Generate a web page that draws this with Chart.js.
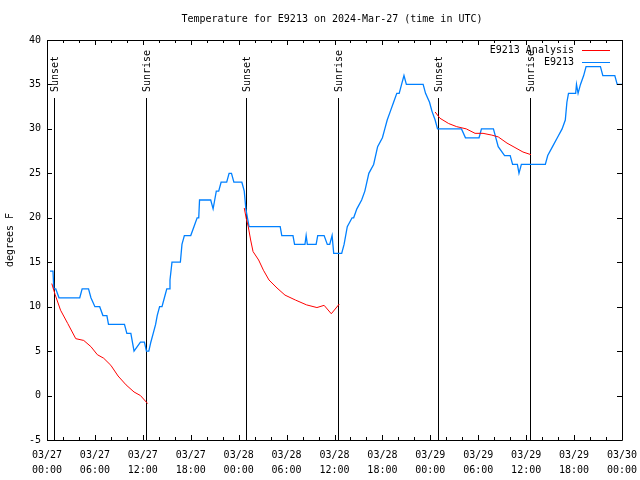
<!DOCTYPE html>
<html>
<head>
<meta charset="utf-8">
<title>Temperature for E9213</title>
<script src="https://cdn.jsdelivr.net/npm/chart.js@4.4.1/dist/chart.umd.min.js"></script>
<style>
  html, body { margin: 0; padding: 0; background: #fff; }
  canvas { display: block; }
</style>
</head>
<body>
<canvas id="tempChart" width="640" height="480"></canvas>
<script>
// ---- data (hours since 03/27 00:00 UTC) ----
const stationHours = [0.38, 0.75, 0.85, 1.1, 1.5, 4.1, 4.4, 5.2, 5.5, 6.0, 6.6, 7.0, 7.5, 7.7, 9.7, 10.0, 10.5, 10.9,
  11.7, 12.2, 12.45, 12.75, 13.0, 13.3, 13.6, 13.8, 14.1, 14.4, 14.7, 15.0, 15.3, 15.4, 15.65, 16.7, 16.9, 17.2, 18.0,
  18.4, 18.8, 19.0, 19.1, 20.5, 20.8, 21.0, 21.2, 21.5, 21.8, 22.5, 22.8, 23.1, 23.4, 24.4, 24.7, 24.9, 25.1, 25.3,
  29.2, 29.4, 30.8, 31.0, 32.3, 32.45, 32.6, 33.7, 33.9, 34.7, 35.1, 35.4, 35.7, 35.9, 36.9, 37.2, 37.6, 38.2, 38.4,
  38.8, 39.4, 39.8, 40.3, 40.9, 41.4, 42.0, 42.3, 42.6, 43.0, 43.4, 43.8, 44.1, 44.4, 44.7, 45.0, 47.1, 47.4, 47.9,
  48.2, 48.6, 48.9, 51.9, 52.4, 54.1, 54.4, 55.9, 56.5, 57.3, 58.0, 58.3, 58.9, 59.1, 59.4, 62.4, 62.7, 63.3, 63.9,
  64.5, 64.9, 65.1, 65.3, 66.2, 66.3, 66.5, 66.8, 67.2, 67.5, 69.3, 69.6, 71.1, 71.4, 72.0];
const stationTemps = [14, 14, 12, 12, 11, 11, 12, 12, 11, 10, 10, 9, 9, 8, 8, 7, 7, 5,
  6, 6, 5, 5, 6, 7, 8, 9, 10, 10, 11, 12, 12, 13, 15, 15, 17, 18, 18,
  19, 20, 20, 22, 22, 21, 22, 23, 23, 24, 24, 25, 25, 24, 24, 23, 21, 20, 19,
  19, 18, 18, 17, 17, 18, 17, 17, 18, 18, 17, 17, 18, 16, 16, 17, 19, 20, 20,
  21, 22, 23, 25, 26, 28, 29, 30, 31, 32, 33, 34, 34, 35, 36, 35, 35, 34, 33,
  32, 31, 30, 30, 29, 29, 30, 30, 28, 27, 27, 26, 26, 25, 26, 26, 27, 28, 29,
  30, 31, 33, 34, 34, 35, 34, 35, 36, 37, 37, 36, 36, 35, 35];

// analysis: three night segments, null breaks the line
const analysisHours = [0.6, 1.0, 1.7, 2.6, 3.6, 4.6, 5.5, 6.3, 7.1, 8.0, 8.9, 9.9, 10.9, 11.7, 12.6, 18.0,
  24.7, 24.95, 25.2, 25.5, 25.8, 26.5, 27.1, 27.8, 28.8, 29.8, 31.1, 32.5, 33.8, 34.7, 35.6, 36.6, 42.0,
  48.6, 49.2, 50.3, 51.3, 52.5, 53.6, 54.6, 55.7, 56.5, 57.6, 58.6, 59.6, 60.6];
const analysisTemps = [12.6, 11.4, 9.6, 8.1, 6.4, 6.2, 5.5, 4.6, 4.2, 3.4, 2.2, 1.2, 0.4, 0.0, -0.9, null,
  21.1, 19.9, 19.0, 17.5, 16.2, 15.25, 14.1, 13.0, 12.1, 11.3, 10.75, 10.2, 9.9, 10.15, 9.2, 10.3, null,
  31.9, 31.2, 30.6, 30.25, 30.0, 29.5, 29.5, 29.3, 29.1, 28.4, 27.9, 27.4, 27.1];

const sunHours = [0.85, 12.45, 24.95, 36.5, 49.0, 60.5];
const sunLabels = ['Sunset', 'Sunrise', 'Sunset', 'Sunrise', 'Sunset', 'Sunrise'];

const tickDates = ['03/27', '03/27', '03/27', '03/27', '03/28', '03/28', '03/28', '03/28', '03/29', '03/29', '03/29', '03/29', '03/30'];
const tickTimes = ['00:00', '06:00', '12:00', '18:00', '00:00', '06:00', '12:00', '18:00', '00:00', '06:00', '12:00', '18:00', '00:00'];

const MONO = "'DejaVu Sans Mono', 'Liberation Mono', monospace";
const BLUE = '#0080ff';
const RED = '#ff0000';

// gnuplot-like frame, inward ticks, sun markers, legend and titles
const gnuplotLook = {
  id: 'gnuplotLook',
  beforeDatasetsDraw(chart) {
    const { ctx, chartArea: ca, scales: { x } } = chart;
    ctx.save();
    ctx.strokeStyle = '#000';
    ctx.fillStyle = '#000';
    ctx.lineWidth = 1;
    ctx.font = '10px ' + MONO;
    sunHours.forEach((h, i) => {
      const px = Math.round(x.getPixelForValue(h)) + 0.5;
      ctx.beginPath();
      ctx.moveTo(px, ca.bottom);
      ctx.lineTo(px, ca.top + 58);
      ctx.stroke();
      ctx.save();
      ctx.translate(px + 1, ca.top + 52);
      ctx.rotate(-Math.PI / 2);
      ctx.textAlign = 'left';
      ctx.textBaseline = 'middle';
      ctx.fillText(sunLabels[i], 0, 0);
      ctx.restore();
    });
    ctx.restore();
  },
  afterDraw(chart) {
    const { ctx, chartArea: ca, scales: { x, y } } = chart;
    ctx.save();
    ctx.strokeStyle = '#000';
    ctx.lineWidth = 1;
    ctx.beginPath();
    ctx.rect(ca.left + 0.5, ca.top + 0.5, ca.right - ca.left, ca.bottom - ca.top);
    ctx.stroke();

    // x ticks every 2 h, longer every 6 h
    ctx.beginPath();
    for (let h = 0; h <= 72; h += 2) {
      const px = Math.round(x.getPixelForValue(h)) + 0.5;
      const len = h % 6 === 0 ? 5 : 3;
      ctx.moveTo(px, ca.bottom); ctx.lineTo(px, ca.bottom - len);
      ctx.moveTo(px, ca.top); ctx.lineTo(px, ca.top + len);
    }
    // y ticks every 5 deg
    for (let v = -5; v <= 40; v += 5) {
      const py = Math.round(y.getPixelForValue(v)) + 0.5;
      ctx.moveTo(ca.left, py); ctx.lineTo(ca.left + 5, py);
      ctx.moveTo(ca.right, py); ctx.lineTo(ca.right - 5, py);
    }
    ctx.stroke();

    // legend, top right inside the plot
    ctx.font = '10px ' + MONO;
    ctx.fillStyle = '#000';
    ctx.textAlign = 'right';
    ctx.textBaseline = 'middle';
    const items = [[chart.data.datasets[0].label, RED], [chart.data.datasets[1].label, BLUE]];
    items.forEach(([label, color], i) => {
      const ly = ca.top + 10 + i * 12;
      ctx.fillText(label, ca.right - 48, ly);
      ctx.strokeStyle = color;
      ctx.beginPath();
      ctx.moveTo(ca.right - 40, ly + 0.5);
      ctx.lineTo(ca.right - 12, ly + 0.5);
      ctx.stroke();
    });

    // chart title and y axis title
    ctx.textAlign = 'center';
    ctx.fillText('Temperature for E9213 on 2024-Mar-27 (time in UTC)', 332, 19);
    ctx.save();
    ctx.translate(10, 240);
    ctx.rotate(-Math.PI / 2);
    ctx.fillText('degrees F', 0, 0);
    ctx.restore();
    ctx.restore();
  }
};

const ctx = document.getElementById('tempChart').getContext('2d');
new Chart(ctx, {
  type: 'line',
  data: {
    datasets: [{
      label: 'E9213 Analysis',
      data: analysisHours.map((h, i) => ({ x: h, y: analysisTemps[i] })),
      borderColor: RED,
      borderWidth: 1,
      pointRadius: 0,
      tension: 0,
      spanGaps: false
    }, {
      label: 'E9213',
      data: stationHours.map((h, i) => ({ x: h, y: stationTemps[i] })),
      borderColor: BLUE,
      borderWidth: 1.3,
      pointRadius: 0,
      tension: 0
    }]
  },
  options: {
    responsive: false,
    animation: false,
    devicePixelRatio: 1,
    layout: { padding: { top: 40, right: 18, left: 0, bottom: 0 } },
    plugins: {
      legend: { display: false },
      tooltip: { enabled: false }
    },
    scales: {
      x: {
        type: 'linear',
        min: 0,
        max: 72,
        grid: { display: false, drawTicks: false },
        border: { display: false },
        ticks: {
          stepSize: 6,
          autoSkip: false,
          maxRotation: 0,
          padding: 8,
          color: '#000',
          font: { family: MONO, size: 10, lineHeight: 1.5 },
          callback: (value, index) => [tickDates[index], tickTimes[index]]
        },
        afterFit: s => { s.height = 40; s.paddingLeft = 0; s.paddingRight = 0; }
      },
      y: {
        min: -5,
        max: 40,
        grid: { display: false, drawTicks: false },
        border: { display: false },
        ticks: {
          stepSize: 5,
          padding: 6,
          color: '#000',
          font: { family: MONO, size: 10 }
        },
        afterFit: s => { s.width = 47; s.paddingTop = 0; s.paddingBottom = 0; }
      }
    }
  },
  plugins: [gnuplotLook]
});
</script>
</body>
</html>
